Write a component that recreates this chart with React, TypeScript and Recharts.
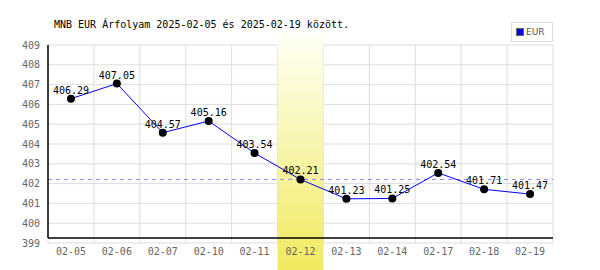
import {
  CartesianGrid,
  LabelList,
  Line,
  LineChart,
  ReferenceArea,
  ReferenceLine,
  XAxis,
  YAxis,
} from 'recharts'

const DATES = [
  '02-05',
  '02-06',
  '02-07',
  '02-10',
  '02-11',
  '02-12',
  '02-13',
  '02-14',
  '02-17',
  '02-18',
  '02-19',
]
const EUR_RATES = [
  406.29, 407.05, 404.57, 405.16, 403.54, 402.21, 401.23, 401.25, 402.54,
  401.71, 401.47,
]
const Y_TICKS = [399, 400, 401, 402, 403, 404, 405, 406, 407, 408, 409]
const HIGHLIGHT_DATE = '02-12'
const HIGHLIGHT_RATE = 402.21
const TITLE = 'MNB EUR Árfolyam 2025-02-05 és 2025-02-19 között.'

const MONO = '"DejaVu Sans Mono", monospace'

const chartData = DATES.map((date, i) => ({ date, eur: EUR_RATES[i] }))

export default function App() {
  return (
    <div
      style={{
        position: 'absolute',
        left: 0,
        top: 0,
        width: 600,
        height: 270,
        background: '#fff',
      }}
    >
      <div
        style={{
          position: 'absolute',
          left: 54,
          top: 18,
          fontFamily: MONO,
          fontSize: 10,
          lineHeight: '14px',
          color: '#000',
          whiteSpace: 'nowrap',
          zIndex: 2,
        }}
      >
        {TITLE}
      </div>
      <div
        style={{
          position: 'absolute',
          left: 511,
          top: 22,
          width: 42,
          height: 20,
          border: '1px solid #dddddd',
          display: 'flex',
          alignItems: 'center',
          gap: 2,
          paddingLeft: 4,
          boxSizing: 'border-box',
          fontFamily: '"DejaVu Sans", sans-serif',
          fontSize: 9,
          color: '#555',
          zIndex: 2,
          background: '#fff',
        }}
      >
        <span
          style={{
            display: 'inline-block',
            width: 6,
            height: 6,
            background: '#0000ff',
            border: '1px solid #666',
          }}
        />
        EUR
      </div>
      <LineChart
        width={600}
        height={270}
        data={chartData}
        margin={{ top: 45, right: 47, left: 0, bottom: 0 }}
      >
        <defs>
          <linearGradient id='bandGrad' x1='0' y1='0' x2='0' y2='1'>
            <stop offset='0%' stopColor='#fffff6' />
            <stop offset='100%' stopColor='#f0ea5e' />
          </linearGradient>
        </defs>
        <CartesianGrid
          stroke='#dddddd'
          verticalCoordinatesGenerator={({ offset }: any) =>
            DATES.map((_, i) => offset.left + (offset.width * i) / DATES.length).concat(
              offset.left + offset.width,
            )
          }
        />
        <XAxis
          dataKey='date'
          scale='band'
          height={27}
          axisLine={false}
          tickLine={false}
          interval={0}
          tick={{ fill: '#666', fontSize: 10, fontFamily: MONO }}
          tickMargin={-1}
        />
        <YAxis
          width={48}
          domain={[399, 409]}
          ticks={Y_TICKS}
          interval={0}
          axisLine={false}
          tickLine={false}
          tick={{ fill: '#666', fontSize: 10, fontFamily: MONO }}
          tickMargin={2}
        />
        <ReferenceArea
          x1={HIGHLIGHT_DATE}
          x2={HIGHLIGHT_DATE}
          y1={397.63}
          y2={409.62}
          ifOverflow='visible'
          fill='url(#bandGrad)'
          fillOpacity={1}
          stroke='none'
        />
        <ReferenceLine
          y={HIGHLIGHT_RATE}
          stroke='#8c8cff'
          strokeDasharray='4 4'
        />
        <ReferenceLine y={399.25} stroke='#000' strokeWidth={1.5} />
        <ReferenceLine
          segment={[
            { x: DATES[0], y: 399.25 },
            { x: DATES[0], y: 409 },
          ]}
          position='start'
          stroke='#000'
          strokeWidth={1.5}
        />
        <Line
          dataKey='eur'
          stroke='#0000ff'
          strokeWidth={1}
          dot={{ r: 4, fill: '#000', stroke: 'none' }}
          activeDot={false}
          isAnimationActive={false}
        >
          <LabelList
            dataKey='eur'
            position='top'
            offset={5}
            fill='#000'
            fontSize={10}
            fontFamily={MONO}
          />
        </Line>
      </LineChart>
    </div>
  )
}
